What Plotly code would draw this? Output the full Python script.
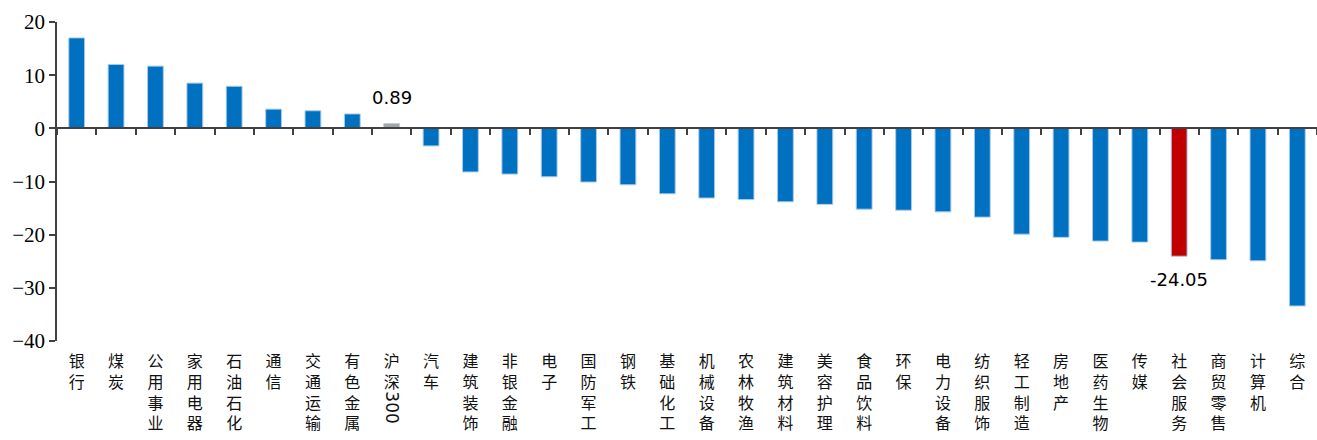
import plotly.graph_objects as go

categories = ["银行", "煤炭", "公用事业", "家用电器", "石油石化", "通信", "交通运输", "有色金属",
              "沪深300", "汽车", "建筑装饰", "非银金融", "电子", "国防军工", "钢铁", "基础化工",
              "机械设备", "农林牧渔", "建筑材料", "美容护理", "食品饮料", "环保", "电力设备",
              "纺织服饰", "轻工制造", "房地产", "医药生物", "传媒", "社会服务", "商贸零售",
              "计算机", "综合"]
values = [17.0, 12.0, 11.7, 8.5, 7.9, 3.6, 3.3, 2.7,
          0.89, -3.3, -8.2, -8.6, -9.1, -10.1, -10.6, -12.3,
          -13.1, -13.4, -13.8, -14.3, -15.2, -15.4, -15.7,
          -16.7, -19.9, -20.5, -21.2, -21.4, -24.05, -24.7,
          -24.9, -33.4]
benchmark = "沪深300"
highlight = "社会服务"
y_ticks = [20, 10, 0, -10, -20, -30, -40]

BLUE = "#0070C0"
RED = "#C00000"
GRAY = "#A5A5A5"

colors = []
for c in categories:
    if c == benchmark:
        colors.append(GRAY)
    elif c == highlight:
        colors.append(RED)
    else:
        colors.append(BLUE)

def vert(label):
    if label == benchmark:
        return "沪<br>深"
    return "<br>".join(label)

ticktext = [vert(c) for c in categories]

fig = go.Figure()
fig.add_trace(go.Bar(
    x=categories, y=values, marker=dict(color=colors, line=dict(color="#5B9BD5", width=0.6)),
    width=0.4, showlegend=False, hoverinfo="x+y",
))
# invisible twin trace for the axis drawn at y=0
fig.add_trace(go.Bar(
    x=categories, y=values, xaxis="x2", marker=dict(color="rgba(0,0,0,0)"),
    width=0.4, showlegend=False, hoverinfo="skip",
))

ymin, ymax = -40, 20
zero_pos = (0 - ymin) / (ymax - ymin)

fig.update_layout(
    width=1317, height=440,
    margin=dict(l=57, r=0, t=22, b=99),
    paper_bgcolor="white", plot_bgcolor="white",
    font=dict(family="Noto Sans CJK SC", color="black"),
    xaxis=dict(
        type="category", categoryorder="array", categoryarray=categories,
        tickmode="array", tickvals=categories, ticktext=ticktext,
        showline=False, ticks="", showgrid=False, zeroline=False,
        tickfont=dict(family="Noto Sans CJK SC", size=16, color="#111111"),
        tickangle=0, ticklabelstandoff=9, range=[-0.5, len(categories) - 0.5],
    ),
    xaxis2=dict(
        type="category", categoryorder="array", categoryarray=categories,
        overlaying="x", anchor="free", position=zero_pos,
        showticklabels=False, showline=True, linecolor="#404040", linewidth=1.5,
        ticks="outside", ticklen=6, tickcolor="#404040", tickwidth=1.5, tickson="boundaries",
        showgrid=False, zeroline=False, range=[-0.5, len(categories) - 0.5],
    ),
    yaxis=dict(
        range=[ymin, ymax], tickmode="array", tickvals=y_ticks,
        showline=True, linecolor="#404040", linewidth=1.5,
        ticks="outside", ticklen=6, tickcolor="#404040", tickwidth=1.5,
        showgrid=False, zeroline=False,
        tickfont=dict(family="Liberation Serif", size=21, color="black"),
    ),
    bargap=0.6,
)

# value labels for benchmark and highlighted sector
for c, v in zip(categories, values):
    if c in (benchmark, highlight):
        fig.add_annotation(
            x=c, y=v, text=f"{v:.2f}", showarrow=False,
            yanchor="bottom" if v >= 0 else "top",
            yshift=14 if v >= 0 else -11,
            font=dict(family="DejaVu Sans", size=18, color="black"),
        )

# rotated "300" part of the benchmark label
fig.add_annotation(
    x=benchmark, xref="x", yref="paper", y=(341 - 407) / 319,
    text="300", textangle=90, showarrow=False,
    xanchor="center", yanchor="middle",
    font=dict(family="DejaVu Sans", size=17, color="#111111"),
)

fig.write_html("out.html")
